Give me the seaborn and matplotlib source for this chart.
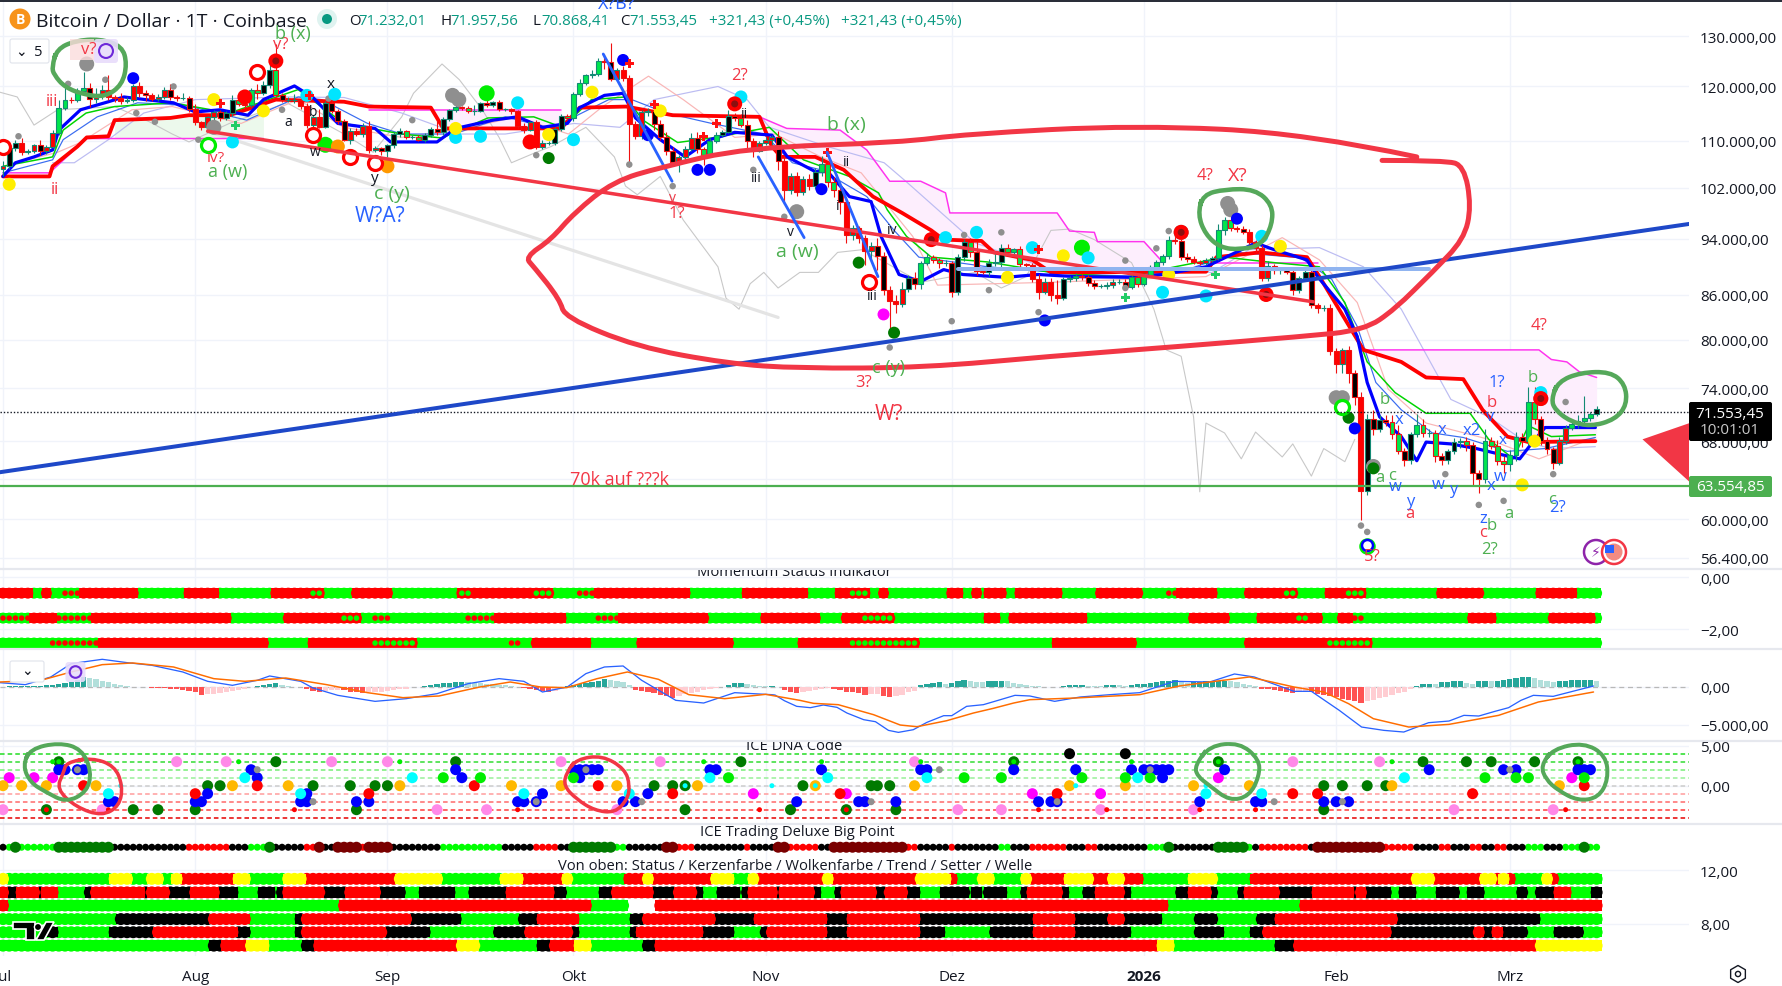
import matplotlib
matplotlib.use("Agg")
import matplotlib.pyplot as plt
from matplotlib.patches import Rectangle, FancyBboxPatch, Polygon, Circle, PathPatch
from matplotlib.path import Path
from matplotlib.ticker import NullLocator
import seaborn as sns

W, H = 1782, 987
CHART_R = 1689

# daily closes in thousand dollars, 1 Jul 2025 to 15 Mar 2026
closes = [
    105.7,108.8,109.6,108.0,108.2,109.2,108.2,108.9,111.3,115.9,117.5,117.4,119.1,119.8,117.7,118.6,119.4,117.9,117.8,117.3,117.4,120.0,118.8,118.3,117.6,117.9,119.4,118.0,117.8,117.8,115.7,
    113.3,112.5,114.2,115.1,114.1,115.0,117.5,116.7,116.5,119.3,118.7,120.2,123.3,118.3,117.4,117.5,117.5,116.3,112.9,114.2,112.5,116.9,115.4,113.5,110.1,111.8,111.2,112.6,108.4,108.8,108.2,
    109.2,111.2,111.7,110.7,110.7,110.2,111.1,112.1,111.5,113.9,115.5,116.1,115.9,115.3,115.4,116.8,116.5,117.1,115.7,115.7,115.3,112.7,112.0,113.3,109.0,109.6,109.6,112.1,114.4,114.0,
    118.6,120.6,122.2,122.4,125.0,124.8,121.4,123.3,121.7,113.0,110.8,115.1,115.3,113.0,110.7,108.2,106.4,107.2,108.6,110.5,108.5,107.6,110.0,111.0,111.6,114.5,114.1,112.9,110.0,108.3,109.6,
    110.1,110.6,106.5,101.6,103.9,101.3,103.4,102.3,104.7,106.0,103.0,101.6,99.7,94.6,95.6,94.2,92.2,92.9,91.5,86.6,85.1,84.7,86.8,88.3,87.4,90.5,91.3,90.9,90.4,90.4,
    86.3,91.3,93.5,92.1,89.3,89.2,90.4,90.6,92.7,92.0,92.5,90.3,90.2,88.2,86.4,87.8,86.0,85.5,88.1,88.3,88.6,88.4,87.6,87.2,87.2,87.3,87.8,87.8,87.1,88.4,87.5,
    88.7,89.9,90.6,91.4,93.9,93.7,91.3,91.0,90.6,90.5,90.9,91.2,95.3,96.9,95.6,95.5,95.1,93.6,92.6,88.3,90.0,89.4,89.5,89.2,86.6,88.3,89.1,84.6,84.1,84.2,78.6,
    76.9,78.7,75.8,73.0,62.8,70.5,69.3,70.3,70.1,68.8,66.9,66.0,68.8,69.8,68.9,68.9,66.4,66.0,66.9,67.9,68.0,67.6,64.6,64.0,68.0,67.5,65.9,65.6,
    66.5,68.5,68.0,72.4,70.5,68.0,67.1,65.7,68.0,69.5,69.9,70.2,70.6,71.0,71.55,
]
wick_up = [
    .8,.5,.6,.9,.4,.3,.9,.3,.6,1.6,2.6,.5,.6,3.1,.9,1.1,.9,2.9,.5,.9,.6,.5,.9,.6,.4,.6,.5,1.0,.4,.9,.3,
    .9,.3,.3,.4,.5,.4,.8,.5,.8,.5,1.2,.8,1.2,5.2,.5,.5,1.1,.4,.5,.4,1.5,.3,.4,.3,.4,.4,.5,.6,1.0,.3,.2,
    .3,.3,.5,.3,.3,.3,.3,.4,1.7,.3,.3,.5,.2,.4,1.1,.3,1.5,.2,.3,.3,.3,.3,.4,.3,.4,.6,.3,.3,.4,.5,
    .3,.9,.3,.8,.6,1.4,3.9,.3,.6,.5,.6,.4,.6,.5,.7,.9,.7,.3,.5,.9,1.1,.5,.5,.5,.4,1.1,.5,.8,.9,.5,.4,
    .6,.5,1.2,.9,.5,.8,.6,.9,.6,1.4,.5,.8,.6,.9,.5,.4,.4,.6,1.3,.6,.6,.8,.9,.4,.8,.3,.6,.3,.3,.5,
    .4,.4,.5,.7,1.6,.4,.6,1.5,.5,.5,.2,.4,.2,.3,.6,.5,.5,2.0,.3,.3,.4,.3,.3,.4,.3,.5,.3,.3,.4,.5,.3,
    .3,.3,.3,.3,.5,.7,.4,.6,.4,.3,.3,.3,1.0,.5,.6,.3,.4,.4,.3,.5,.8,.3,.4,.4,.3,.3,.4,.5,.2,.3,.5,
    .4,.3,.5,.4,.6,.5,1.0,.6,.6,.8,1.0,.4,.2,1.2,.6,.4,.3,.3,.2,.4,.3,.4,.3,.3,1.3,.4,.6,.5,
    .5,.5,.4,1.8,1.8,.3,.4,.3,.4,.3,.6,.7,2.5,.3,.4,
]
wick_dn = [
    1.2,.5,.6,.5,.3,.4,.6,.5,.2,.3,.4,.5,.3,.5,1.6,.8,.9,.5,.7,.6,.4,.4,.8,1.0,.4,.4,.3,.5,.6,.4,.5,
    .5,.6,.4,.4,.5,.4,.6,.4,.5,.3,1.0,.4,.4,.4,.4,.3,.7,.5,.7,.5,.3,.3,.4,.5,.2,.6,.4,.5,.5,.4,.6,
    1.0,.4,.5,.3,.4,.3,.4,.5,.4,.4,.3,.4,.4,.3,.6,.3,.4,.3,.3,.4,.5,.4,.7,.3,.5,.4,.4,.3,.4,.3,
    .5,.4,.4,.5,.4,1.3,.4,.4,.6,7.5,.4,.4,.6,1.0,.6,.6,.4,1.8,.5,.3,.6,1.7,.5,.4,.3,.3,.6,.4,1.4,1.1,.3,
    .4,.9,1.5,2.2,.6,.6,.4,.7,.5,.7,.8,1.1,1.8,1.2,.8,.8,2.0,1.4,2.0,.6,4.0,1.2,.4,.4,.7,.6,.4,.5,.6,.4,
    .6,.4,.5,.8,.6,.4,.6,.4,.7,.5,.4,.4,.5,.5,1.0,.3,.9,.8,.3,.4,.4,.4,.4,.4,.3,.5,.4,.4,.4,.4,.4,
    .3,.3,.4,.4,.4,.5,.4,.4,.3,.4,.4,.3,.3,.7,.4,.4,.4,.4,.6,.4,.4,.5,.6,.4,.6,.4,.4,.5,.6,.4,.6,
    1.0,1.0,1.2,1.0,2.9,.4,.6,.3,.4,.6,.3,.7,.4,.4,.5,.4,.6,.6,.4,.3,.6,.7,1.3,1.4,.4,.4,.5,1.0,
    .8,.6,.6,.4,.6,.4,.5,.7,.3,.3,.3,.4,.3,.4,.2,
]

# line studies on the price pane: day index and price in thousands
blue_days = [0,2,5,8,9,12.5,17,19.5,23,27.5,31,35,39.5,42,47,50,54,60,62.5,70,73,79,83,87,91,93,97,100,102,106,110,114,118,124,126.5,131,133,136.5,140,141.6,144.5,148,151.7,154.8,161.8,166.9,173,182,187,194,197,202,205,210.3,212,216.4,218.4,220,222,225.5,228,229.5,233.5,237.6,242.6,244.6,246.7,248.7,256.8]
blue_vals = [103.9,106.2,107.2,108.4,111.9,115.6,117.1,118,117.5,116.9,115.2,115.6,114.6,117.5,120.1,117.9,113.1,112.2,109.8,109.8,112.2,113.7,114.3,112.4,113.1,116,118.3,118.7,114.1,110.2,107.2,110.2,111.5,111,107.2,104.7,104.7,100.6,99.8,94.4,88.8,87.8,89.5,88.8,88.4,88.8,88.5,88.4,88.8,89.9,91.2,93.4,92.4,90.9,88.5,84,80.4,74.7,70.7,68.5,65.9,67.9,67.7,67.2,66.4,66.1,67.9,69.5,69.5]
red_days = [0,7.5,8,12,13.5,17,18,27,30,36.5,40.2,44,55,59,69,71,90,93,100.5,108,122,124,125.5,131,135.6,140.3,145,149.7,151.7,157.8,159.8,166,169,194,195.7,202.7,210.3,212.3,219.4,225.5,229.5,235.5,238.6,242.6,246,256.8]
red_vals = [103.9,103.9,105.6,109,110.6,110.8,113.7,114.1,114.6,114.6,116,117.5,117.1,116.2,116,112.2,112.2,116,116.2,114.6,114.3,109,107.2,107.2,105,100.6,98,95.3,93.9,93.7,92,90.9,89.1,89.2,91.3,92,91.3,88.5,78.7,77.2,75.3,75.1,71.5,68.5,67.9,68]
green_days = [0,8,9.7,13.4,18,27.3,36.5,47.6,55,64.3,70.8,78.2,85.6,90.2,94.9,100.4,103.2,108.8,114.3,123.6,129.1,136.5,141.2,142.6,145.7,149.7,158.8,169,181,189,197,205,212.3,216.4,220,224.5,229.5,236.6,239.6,243.6,246,249.7,256.8]
green_vals = [105.6,107.2,111.9,115,116.2,116.9,115,119.4,113.1,111.2,110.5,114.1,114.3,112.4,117.5,118,113.7,109.7,110.5,112.4,106.7,103.9,101.2,98.5,94.4,91.3,90.6,89.1,88.4,89.9,91.3,90.5,89.9,84.9,77.2,73.5,71.1,71.1,68.2,66.1,69.7,68.5,68.7]
thin_blue_days = [0,8,9.7,15.2,21.7,29.1,39.3,47.6,51.4,58.8,64.3,72.7,81,88.4,92.1,97.7,101.4,107,114.3,122.7,127.3,131.9,139.3,143.7,147.7,158.8,174,185,191,199,209.3,214.3,218.4,221.4,225.5,230.5,235.5,242.6,248.7,256.8]
thin_blue_vals = [104.5,106.7,110.2,114.3,116.9,116.5,113.7,118,117.5,113.1,111.2,111.2,114.3,112.2,114.3,117.5,117.5,115,113.1,111.2,106.2,105,100.6,95.3,91.3,89.9,88.8,88.5,89.5,92,91.2,88.1,81.7,74.7,71.5,68.9,68.4,66.9,67.2,68.4]
lavender_days = [8,11.5,17,22.7,31,45.8,55,64.3,73.6,81,92.1,99.5,105,115.3,120,123.6,132.9,142.1,145.7,156.8,169,195,201,212.3,219.4,225.5,233.5,239.6,245.6,249.7,256.8]
lavender_vals = [106.2,106.2,110.2,115,117.5,118,117.9,115,111.2,111.2,113.1,112.4,117.5,120,117.5,112.4,109,106.2,103,93.4,89.5,89.1,92.4,92.7,89.9,84,72.7,70.7,67.9,67.2,67.4]
salmon_days = [0,8.8,12.5,20.8,27.3,38.4,47.6,55,64.3,75.4,82.8,91.2,96.7,104.1,109.7,118,124.5,131.9,138.4,146.7,150.7,169,194,206.3,212.3,218.4,223.4,229.5,239.6,247.7,256.8]
salmon_vals = [105.6,108,109.7,115.6,116.2,113.1,117.5,112.4,110.6,112.4,114.3,111.2,116.2,122,117.5,110.6,111.2,107.2,104.5,94.4,87.3,87.7,88.5,94.2,90.9,84.9,73.9,70,68.2,66.1,68.4]
lag_days = [-0.5,2.3,5,8.8,18,23.6,27.3,30,36.5,45.8,55,59.7,64.3,66.2,70.8,73.6,77.3,80,82,86,88.4,94,98.6,100.4,102.3,106,109.7,115.3,116.6,118.7,120.5,122.7,125,128.5,131.5,134.6,138.6,148,156.8,161,165,169,172,176,182,185.6,187.6,190,192,193,194,197,199.7,202,206.3,208,211,213,216.4,218]
lag_vals = [118.9,118,112.8,115.6,116.2,113.4,111.2,109.8,113.1,116.9,111.2,108,114.3,118.7,124.4,121.3,115.6,110.6,106.2,108,109,112.4,107.2,102.3,100.9,103.9,96.9,89.9,85.5,84,87.5,89.1,86.9,89.1,89.1,92,92.4,87.7,89.1,86.9,88.5,95.3,95.5,93.9,90.5,84,78.7,77.9,70.7,62.7,70,68.9,66.1,69,66.3,67.7,64.3,67.2,65.8,68.2]

# clouds
cloud_green_days = [18,27,30,33,42]
cloud_green_top = [113.7,114.1,114.6,114.6,114.6]
cloud_green_low = [110.4,110.4,110.4,110.4,110.4]
cloud_pink1_days = [59,69,71,83,90]
cloud_pink1_top = [115.6,115.6,115.6,115.6,115.6]
cloud_pink1_low = [116,116,112.2,112.2,112.2]
cloud_pink2_days = [122,126.4,135,139.3,143,148,152,152.7,170,172,176,176.5,184,187]
cloud_pink2_top = [114.3,112.2,111.9,108.4,103.1,103.1,101.2,98,98,95.2,95,93.6,93.6,90.6]
cloud_pink2_low = [114.3,107.2,105.3,101.8,99,96,93.9,93.8,89.1,89.1,89.1,89.1,89.1,89.2]
cloud_pink3_days = [220,225.5,229.5,235.5,238.6,242.6,246,247.7,249.7,252.2,254.2,257]
cloud_pink3_top = [78.7,78.7,78.7,78.7,78.7,78.7,78.7,78.7,77.5,77.2,76,75.3]
cloud_pink3_low = [78.4,77.2,75.3,75.1,71.5,68.5,67.9,67.9,68,68,68,68]
magenta_a_days = [0,7.5,13.5,42]
magenta_a_vals = [104.5,104.5,110.4,110.4]
magenta_b_days = [195,212]
magenta_b_vals = [90.5,90.5]

# drawn trend lines and hand shapes, day index and price
long_blue_days = [-0.5,272]
long_blue_vals = [64.7,96.3]
long_red_days = [33,211.3]
long_red_vals = [111.7,85.0]
long_grey_days = [33,125]
long_grey_vals = [111.7,82.9]
flat_blue_days = [154,230]
flat_blue_vals = [89.6,89.6]
diag_a_days, diag_a_vals = [96.8,107.9], [126.4,103.1]
diag_b_days, diag_b_vals = [121.8,129.2], [107.2,94.2]
diag_c_days, diag_c_vals = [132.9,141.1], [108,88.5]
loop_days = [228,210.3,182.8,155.3,144.7,119.8,106,98.5,92.1,88.4,84.2,85.6,89.8,90.6,102.1,116.8,128.5,148.7,168.9,189.2,209.4,219.5,224.5,230.5,235.6,236.8,235.6,232.6,222.4]
loop_vals = [107.2,111.3,112.8,111.2,109.7,108.8,105.4,103.1,98,93.9,91.3,89.9,85.3,82.9,79.1,77,76.4,76.5,77.9,79.1,80.4,81.2,84,89.1,93.9,99,105.7,106.6,106.6]
ring_a_days = [7.9,8.7,11.6,15.6,19.2,20,19.2,16.5,13.2,10,8.2,7.9]
ring_a_vals = [123.8,127.4,129.1,129.5,128,124.4,120.3,118,118.4,119.8,122.3,123.8]
ring_b_days = [192.7,193.5,197.1,201.9,204.7,204.7,203,199.5,196.3,193.9,192.7]
ring_b_vals = [97.7,100.9,101.8,101.8,99.3,96.2,93.1,92.4,92.7,94.7,97.7]
ring_c_days = [249.7,250.8,254.4,259.2,261.6,261.9,260,256,252.7,250.3,249.7]
ring_c_vals = [72.7,74.8,75.9,76,74.5,72.1,70.4,69.6,70.2,71.5,72.7]
wedge_days = [272,264.4,272]
wedge_vals = [70,68.2,63.7]
support_level = 63.3
last_close = 71.2

# marker dots on the price pane
grey_small_d = [2.5,10.5,16.5,31.5,27.5,21.5,24.5,45,52.5,66,86,101,108,121,126,161,155,153,159,167,181,181,186,188,232.6,238,242,250,252,219,220,143]
grey_small_p = [110.8,120.5,121.3,110.2,120,115,113.4,115.6,117.7,113.7,107.5,105.9,102.3,105,97.4,95,94.6,82.4,86.6,83.6,90.8,86.9,92.6,95.2,64.5,61.4,61.8,64.5,72.4,59.4,58.8,79]
grey_big_d = [13.5,34,73.5,72.5,128,198,197.5,190,248,215,216,221]
grey_big_p = [124.4,112.4,117.5,118.3,98.2,98.5,99.5,95,72.8,72.9,72.9,65.3]
blue_d = [21,100,104,112,114,132,199,168,218]
blue_p = [121.6,125.2,111,105,105,101.8,97.1,82.5,69.4]
blue_ring_d = [220]
blue_ring_p = [57.6]
dark_green_d = [88,138,143.7,217,221]
dark_green_p = [107,90.5,80.9,70.6,65.1]
lime_d = [78,52,174]
lime_p = [118.7,109.3,92.7]
cyan_d = [49,53.5,37,73,77,92,119,83,152,157,166,175,187,194,203,248]
cyan_p = [118.3,118.5,109.8,110.6,110.8,110.2,118,116.9,94.2,95,92.7,91.2,86.3,85.8,94.4,73.5]
yellow_d = [1,34,42,95,73,88,106,171,188,162,206,245,247]
yellow_p = [102.6,117.5,115.4,118.9,112.2,111.1,115.4,91.5,88.8,88.4,92.9,63.4,68]
orange_d = [62,54]
orange_p = [105.6,109]
magenta_d = [142]
magenta_p = [83.3]
red_solid_d = [39,85,44,118,149.7,203.7,190,248]
red_solid_p = [118,109.8,125,116.7,93.9,86,95,72.8]
red_core_d = [44,118,149.7,203.7,190,248]
red_core_p = [125,116.7,93.9,86,95,72.8]
red_ring_d = [0,41,50,56,60,139.7]
red_ring_p = [109,122.8,111,107.2,106.2,87.8]
green_ring_d = [33,216]
green_ring_p = [109.3,71.8]
red_plus_d = [35,49.5,101,115,113,105,133,167]
red_plus_p = [116.7,118.3,124.5,113,110.8,116.6,108,92.4]
green_plus_d = [37.5,195.6,181]
green_plus_p = [112.8,88.8,85.6]

# status rows: colour code and last day of the run
mom_row1 = "R4 G6 R7 G9 r12 R21 G29 R34 G43 R49 g51 G56 R62 G73 g75 R85 g88 G92 r95 R110 G119 R129 G134 R136 g139 G141 R142 G152 R154 G156 R157 G158 R161 G163 R170 G176 R183 G187 r189 R195 G200 R206 g208 G213 R216 g219 G231 R238 G247 R253 G257".split()
mom_row2 = "r4 R8 r14 R36 G45 R54 g57 G59 r62 G74 r79 R90 G95 r99 R113 G122 R131 G135 R138 g143 G158 R160 G162 R174 G191 R197 G202 R208 g210 R212 G215 R217 r219 G236 R240 G249 R256 G257".split()
mom_row3 = "G7 r15 R42 G49 R59 g66 G81 r83 G85 R94 G102 R117 G128 R136 g147 G169 R182 G200 R213 g220 G257".split()
big_point = "K0 G1 D2 G8 D17 K29 R36 K39 G42 D43 K48 R50 M51 K53 M57 R58 M62 K70 G80 K85 R89 K91 D98 G100 K106 M108 R111 K119 R120 K124 M126 R131 K133 M145 R147 K152 R153 K160 G162 K165 R171 K174 R176 K184 G187 D188 K195 D200 G201 K202 R210 K211 M222 R227 K231 R233 K236 R238 K240 R242 K245 G248 K251 G254 D255 G257".split()
status_row = "Y0 G17 Y20 G23 Y25 G27 Y28 R37 Y39 G45 Y48 R63 Y70 G80 Y83 R90 Y91 G100 R103 Y104 R114 Y117 G120 Y121 R132 Y133 R147 Y152 R153 G157 Y159 G164 Y165 R171 Y175 R178 Y180 R183 G191 Y195 G201 R227 Y230 R238 Y240 R241 Y242 R243 G248 Y249 R250 G257".split()
candle_row = "R0 K2 R5 K6 R8 G13 K14 R22 K23 R26 K30 R34 K37 G41 K43 G44 K45 R51 K55 R60 K64 G67 K72 G75 K81 R88 K90 G96 K98 R104 K108 R111 K112 G115 K118 G119 K120 R124 K125 R130 K131 G134 K135 R140 K142 R145 K147 G151 K155 G156 K157 G158 K161 G164 K165 R170 K171 G174 K176 R180 K181 G189 K191 R194 K195 G199 K200 R205 K211 R217 K218 R219 K223 G225 K227 G231 K234 G236 K238 G244 K245 G247 K250 R252 G256 K257".split()
cloud_row = "R0 G54 R94 G100 W105 R187 G209 R257".split()
trend_row = "G18 K33 R39 G47 K48 R65 K73 G83 K86 R92 G101 K103 R114 K121 R132 K136 R147 K166 R172 K178 R180 K186 G192 K195 G202 K205 R224 K247 G257".split()
setter_row = "G7 K8 G17 K24 R37 K39 G47 K48 R61 K68 G79 K84 R91 K92 G101 K102 R112 K117 G122 K123 R132 K136 R147 K151 G159 K166 R172 K181 G192 K196 G201 K203 R223 K237 R238 K240 R241 K245 G250 K254 G257".split()
wave_row = "G33 K35 R39 Y42 G48 K50 R73 Y76 G86 K88 R92 Y94 G103 K105 R186 Y188 G205 K208 R247 Y257".split()

# ICE DNA dots: day lists per level
pink_up = [28,36,53,62,90,106,147,208,222]
pink_down = [0,16,70,78,99,154,161,177,192,234,250]
magenta_up = [1,5,8,196,253]
magenta_down = [121,136,166,177]
dgreen_l3 = [9,44,73,119,163,196,229,236,240,247,254]
dgreen_l0 = [33,35,50,56,60,62,105,108,110,129,140,141,143,213,216,220,223]
dgreen_ln3 = [7,21,25,31,57,110,127,136,144,213]
blue_l2 = [9,10,12,13,40,73,92,93,94,95,96,114,115,132,148,149,163,173,182,184,185,186,187,188,197,230,242,244,254,255,256]
blue_l1 = [41,74,93,187]
blue_ln1 = [33,49,87,104]
blue_ln2 = [17,18,31,32,48,49,57,59,83,84,86,100,102,128,138,139,144,167,169,170,193,202,203,213,215,217]
amber_l0 = [0,3,7,15,37,46,64,82,90,99,112,131,147,172,181,192,201,224,251]
red_l0 = [13,41,76,96,255]
red_ln1 = [31,59,108,135,170,208,212,237]
lime_l1 = [71,77,92,117,155,161,174,181,185,239,244,246,255]
cyan_l1 = [39,66,114,133,149,183,226]
cyan_ln1 = [17,48,84,101,194,203]
tiny_cyan_l0 = [19,124,131,173,194,110]
tiny_lime_l3 = [8,38,64,113,132,148,182,224,9,163,196,254]
tiny_red_ln3 = [7,17,47,83,122,136,167,178,193,202,252]
grey_l2 = [12,41,94,151,185,243]
grey_ln2 = [50,86,103,140,170,205,216]
black_l4 = [172,181]
dna_levels = [4,3,2,1,0,-1,-2,-3,-4]
dna_colors = ["#22dd22","#33dd33","#77ee77","#99f099","#cccccc","#ff9c9c","#ff6a6a","#ff3b3b","#e60000"]
dna_ring1_d = [3.2,4.4,9,12.7,14.3,13.5,10.2,6.9,4.4,3.2]
dna_ring1_v = [2.5,4.6,5.4,4.6,1.7,-0.8,-2.1,-0.8,0.4,2.5]
dna_ring2_d = [192.2,194.6,199.4,202.6,202.6,201,197.8,194.6,192.6,192.2]
dna_ring2_v = [2.5,5,5.4,3.3,1.2,-1.3,-1.9,0,1.2,2.5]
dna_ring3_d = [248,250,254.9,258.5,258.9,257.3,254,250.8,248.8,248]
dna_ring3_v = [2.5,4.6,5.4,3.8,0.8,-1.5,-1.9,-0.6,0.8,2.5]
dna_loop1_d = [10.2,14.3,18,19.3,18.8,16,11.8,8.6,9.8,10.2]
dna_loop1_v = [2.9,3.5,2.5,0,-2.5,-3.8,-2.7,-0.4,1.7,2.9]
dna_loop2_d = [90.9,92.5,96.6,100.3,101.1,100.7,98.7,95.4,92.5,90.4,90.9]
dna_loop2_v = [1.7,3.3,3.8,2.1,0,-1.7,-3.4,-3.1,-1.7,0,1.7]

# MACD pane
macd_hist = [
    60,80,90,100,130,160,180,220,300,420,560, 700,900,1250,1200,1000,800,600,450,
    300,150,30,-30,-60,-90,-140,-180,-220,-300,-420,-560,-640, -1100,-950,-880,-800,-700,-560,-420,-280,-60,
    150,280,420,560,300,130,40, -30,-200,-560,-650,-480,-420,-350,-400,-650,-700,-780,-720,-650,-600,-500,
    -380,-300,-200,-60, 50,120,250,350,500,580,650,720, 620,560,500,460,400,320,260,180,60,
    -80,-230,-400,-550,-680,-560,-300, 80,220,400,560,700,820,1000, 950,800,600,250,
    -350,-500,-650,-800,-1000,-1250,-1400, -1150,-950,-800,-600,-450,-300,-120,40, 300,480,500, 380,250,180,130,180,60,
    -400,-700,-800, -650,-500,-350,-200,-130, -250,-350,-600,-700,-800,-1050, -950,-900, -1200,-1300,-1250, -1000,-700,-500,
    200,450,550,700, 400, 500,750,950, 850,700,650, 750,800,800,750, 500,400,250,100,
    80,40,20,-50, 100,200,250,250, 180,170,150,200,220,200,150,200, 350,450,550,650,750,850,900, 600,500,
    600,700,750,800,850,850,800, 600,450,300,150, -200,-300,-450,-550,-650,-750,-700,-600,
    -600,-900,-1100,-1200,-1350,-1550,-1700,-1900,-2100, -1900,-1700,-1500,-1300,-1000,-800,-600,-300,
    150,400,450,350,600,700,750,750, 500,400, 750,800,750,850,950,1100,1200, 1250,1250,1150, 900,800,700,
    800,850,900,900,900,900, 850,
]
macd_days = [-0.5,3.6,7.7,11,16,20,24,29,33,37,41,43,48,50,54,60,65,70,75,80,84,87,91,94,97,100,103,108.5,113,118,124,124.5,126,128,130.2,132.3,134.5,136.1,138.8,140.7,142.8,144.4,146.8,149,151.7,153,155.4,158.1,160.3,163.2,165.6,169.6,173.7,178.5,183.3,188.9,194.6,198.6,201.8,208.2,211,215.5,219.1,222.7,225.9,229.9,233.2,235.6,238,240.6,242.8,244.8,246.8,250,256.5]
macd_vals = [570,307,1317,3073,3644,3205,2854,1976,746,220,878,1449,746,-132,-1098,-1888,-1537,-878,439,1098,746,-659,0,1756,2634,2766,878,-1756,-2107,-746,-1010,-1054,-1800,-2546,-2722,-2370,-2678,-3424,-4300,-4566,-5707,-5970,-5620,-4653,-3775,-3775,-2546,-2327,-1800,-1097,-1185,-1888,-1317,-1010,-746,746,658,1712,1317,-570,-570,-3073,-5268,-5707,-5926,-4697,-4478,-3731,-3819,-3205,-2722,-1756,-1097,-1229,132]
signal_days = [-0.5,6.1,11,16,20.9,27.5,34,39,45.6,52.2,58.8,64.5,70.3,76.9,81.8,86.7,90.9,95.8,100.7,105.7,110.6,116.4,123,128.5,130.7,134.7,140.4,144.7,147.4,152.2,156.5,159.7,163,165.6,172.9,183.3,189.7,194.6,201,208.2,213,217,221,226.7,233.2,241.2,247.6,256.5]
signal_vals = [658,878,1975,2941,3161,2634,1097,746,1185,307,-746,-1405,-1185,0,658,0,-88,1097,1975,1010,-1010,-1536,-966,-1756,-2151,-2327,-3644,-5005,-5224,-4434,-3424,-2810,-2107,-1668,-1449,-1010,132,658,1317,0,-658,-2195,-4170,-5268,-4917,-3731,-1975,-658]

month_days = [0,31,62,92,123,153,184,215,243]
month_labels = ["Jul","Aug","Sep","Okt","Nov","Dez","2026","Feb","Mrz"]
price_ticks = [130,120,110,102,94,86,80,74,68,64,60,56.4]
price_labels = ["130.000,00","120.000,00","110.000,00","102.000,00","94.000,00","86.000,00","80.000,00","74.000,00","68.000,00","64.000,00","60.000,00","56.400,00"]

RED, GREEN, BLUE = "#f23645", "#4caf50", "#2962ff"
BAND = {"R":"#ff0000","G":"#00ff00","K":"#000000","Y":"#ffff00","D":"#007a00","M":"#7a0000","W":"#ffffff"}

sns.set_theme(style="white")
plt.rcParams["font.family"] = ["Open Sans", "DejaVu Sans"]
fig = plt.figure(figsize=(W / 100, H / 100), dpi=100, facecolor="white")


def pane(top, bottom, ylim, log=False):
    ax = fig.add_axes([0, 1 - bottom / H, CHART_R / W, (bottom - top) / H])
    if log:
        ax.set_yscale("log")
    ax.set_xlim(-0.484, 271.9)
    ax.set_ylim(*ylim)
    ax.yaxis.set_minor_locator(NullLocator())
    ax.yaxis.tick_right()
    ax.set_xticks(month_days)
    ax.set_xticklabels([])
    ax.tick_params(axis="both", length=0, labelsize=11, colors="#131722", pad=8)
    ax.grid(True, color="#f0f3fa", lw=1)
    ax.set_axisbelow(True)
    sns.despine(ax=ax, left=True, bottom=True, right=True, top=True)
    ax.patch.set_alpha(0)
    return ax


def line(ax, xs, ys, color, px=1.0, z=3, **kw):
    sns.lineplot(x=xs, y=ys, ax=ax, color=color, lw=px * 0.72, estimator=None, sort=False,
                 errorbar=None, legend=False, zorder=z, solid_capstyle="round", solid_joinstyle="round", **kw)
    ax.set_xlabel("")
    ax.set_ylabel("")


def stroke(ax, xs, ys, color, px, z=9):
    # hand drawn shape, read points act as curve controls so the pen line stays round
    pts = list(zip(xs, ys))
    closed = pts[0] == pts[-1]
    mid = lambda a, b: ((a[0] + b[0]) / 2, (a[1] + b[1]) / 2)
    if closed:
        verts = [mid(pts[0], pts[1])]
        ctrl = pts[1:] + [pts[1]]
    else:
        verts = [pts[0]]
        ctrl = pts[1:-1]
    codes = [Path.MOVETO]
    for i, p in enumerate(ctrl):
        nxt = ctrl[i + 1] if i + 1 < len(ctrl) else (mid(pts[0], pts[1]) if closed else pts[-1])
        end = mid(p, nxt) if i + 1 < len(ctrl) else nxt
        verts += [p, end]
        codes += [Path.CURVE3, Path.CURVE3]
    ax.add_patch(PathPatch(Path(verts, codes), fill=False, ec=color, lw=px * 0.72, zorder=z, capstyle="round"))


def dots(ax, xs, ys, color, px=12, z=6, edge="none", lw=0, marker="o", **kw):
    if not isinstance(ys, list):
        ys = [ys] * len(xs)
    sns.scatterplot(x=xs, y=ys, ax=ax, color=color, s=(px * 0.72) ** 2, zorder=z, edgecolor=edge,
                    linewidth=lw, marker=marker, legend=False, clip_on=True, **kw)
    ax.set_xlabel("")
    ax.set_ylabel("")


def rings(ax, xs, ys, color, px=13, width=3.0, z=6):
    ax.scatter(xs, ys, s=(px * 0.72) ** 2, facecolors="white", edgecolors=color, linewidths=width * 0.72, zorder=z)


def expand_runs(tokens):
    days, codes, start = [], [], 0
    for tok in tokens:
        end = int(tok[1:])
        for d in range(start, end + 1):
            days.append(d)
            codes.append(tok[0])
        start = end + 1
    return days, codes


def band(ax, tokens, y, px=11):
    days, codes = expand_runs(tokens)
    base = {"r": "G", "g": "R"}
    for code in sorted(set(base.get(c, c) for c in codes)):
        xs = [d for d, c in zip(days, codes) if base.get(c, c) == code]
        if code != "W":
            dots(ax, xs, y, BAND[code], px=px, z=4)
            dots(ax, xs, y, BAND[code], px=px - 1.6, z=4, marker="s")
    for small, col in (("r", "#ff0000"), ("g", "#00ff00")):
        xs = [d for d, c in zip(days, codes) if c == small]
        if xs:
            dots(ax, xs, y, col, px=5.5, z=5)


# ---- price pane
ax_p = pane(2, 569, (55.5, 137.6), log=True)
for xs, top, low, col in [(cloud_green_days, cloud_green_top, cloud_green_low, "#ecf9ec"),
                          (cloud_pink1_days, cloud_pink1_top, cloud_pink1_low, "#fdeefd"),
                          (cloud_pink2_days, cloud_pink2_top, cloud_pink2_low, "#fdeefd"),
                          (cloud_pink3_days, cloud_pink3_top, cloud_pink3_low, "#fdeefd")]:
    ax_p.fill_between(xs, low, top, color=col, lw=0, zorder=1)

line(ax_p, lag_days, lag_vals, "#c8c8c8", 1.1, z=2)
line(ax_p, lavender_days, lavender_vals, "#bcbcf2", 1.2)
line(ax_p, salmon_days, salmon_vals, "#f9b6b6", 1.2)
line(ax_p, magenta_a_days, magenta_a_vals, "#ff33ee", 1.5)
line(ax_p, magenta_b_days, magenta_b_vals, "#ff33ee", 1.5)
line(ax_p, cloud_pink1_days, cloud_pink1_top, "#ff33ee", 1.5)
line(ax_p, cloud_pink2_days, cloud_pink2_top, "#ff33ee", 1.5)
line(ax_p, cloud_pink3_days, cloud_pink3_top, "#ff33ee", 1.5)
line(ax_p, thin_blue_days, thin_blue_vals, "#3a6cf0", 1.2)
line(ax_p, green_days, green_vals, "#00d400", 1.5)

line(ax_p, long_grey_days, long_grey_vals, "#e4e4e4", 3.2, z=2)
line(ax_p, long_red_days, long_red_vals, RED, 3.5, z=8)
line(ax_p, flat_blue_days, flat_blue_vals, "#90b4f0", 4, z=8)
line(ax_p, red_days, red_vals, "#ff0000", 3.8, z=3.4)
line(ax_p, blue_days, blue_vals, "#0000ff", 3.2, z=3.5)

# candles: body colour follows the Kerzenfarbe row
candle_days, candle_codes = expand_runs(candle_row)
opens = [closes[0] - 0.5] + closes[:-1]
for d, (op, cl, up, dn) in enumerate(zip(opens, closes, wick_up, wick_dn)):
    code = candle_codes[d]
    rising = cl >= op
    edge = "#138a74" if rising else "#f01010"
    face = {"G": "#00e64d", "R": "#ff0000", "K": "#000000"}[code]
    ax_p.vlines(d, min(op, cl) - dn, max(op, cl) + up, color=edge, lw=0.8, zorder=4)
    ax_p.bar(d, abs(cl - op), bottom=min(op, cl), width=0.8, color=face, edgecolor=edge, linewidth=0.8, zorder=4.2)

ax_p.axhline(support_level, color=GREEN, lw=1.6, zorder=7)
ax_p.axhline(last_close, color="#131722", lw=1, ls=(0, (1, 1.4)), zorder=7)

line(ax_p, long_blue_days, long_blue_vals, "#1e48c8", 4, z=8)
line(ax_p, diag_a_days, diag_a_vals, BLUE, 2.8, z=8)
line(ax_p, diag_b_days, diag_b_vals, BLUE, 2.8, z=8)
line(ax_p, diag_c_days, diag_c_vals, BLUE, 2.8, z=8)
stroke(ax_p, loop_days, loop_vals, RED, 5)
for xs, ys in [(ring_a_days, ring_a_vals), (ring_b_days, ring_b_vals), (ring_c_days, ring_c_vals)]:
    stroke(ax_p, xs, ys, "#55a85a", 4.5)
ax_p.add_patch(Polygon(list(zip(wedge_days, wedge_vals)), closed=True, color=RED, lw=0, zorder=9))

dots(ax_p, grey_small_d, grey_small_p, "#8f8f8f", 6.5)
dots(ax_p, grey_big_d, grey_big_p, "#8f8f8f", 15)
dots(ax_p, blue_d, blue_p, "#0000ff", 12)
dots(ax_p, dark_green_d, dark_green_p, "#007a00", 12)
dots(ax_p, lime_d, lime_p, "#00ee00", 16)
dots(ax_p, cyan_d, cyan_p, "#00e5ff", 13)
dots(ax_p, yellow_d, yellow_p, "#ffee00", 13)
dots(ax_p, orange_d, orange_p, "#ff9800", 14)
dots(ax_p, magenta_d, magenta_p, "#ff00ff", 12)
dots(ax_p, red_solid_d, red_solid_p, "#ff0000", 15)
dots(ax_p, red_core_d, red_core_p, "#8a1010", 7, z=6.5)
rings(ax_p, red_ring_d, red_ring_p, "#ff0000", 14, 3.2)
rings(ax_p, green_ring_d, green_ring_p, "#00ee00", 14, 3.2)
rings(ax_p, blue_ring_d, [blue_ring_p[0] * 0.998], "#00ee00", 14, 2.5)
rings(ax_p, blue_ring_d, blue_ring_p, "#0000ff", 11, 2.5)
dots(ax_p, red_plus_d, red_plus_p, "#ff1010", 9, marker="P")
dots(ax_p, green_plus_d, green_plus_p, "#22cc66", 9, marker="P")
ax_p.set_yticks(price_ticks)
ax_p.set_yticklabels(price_labels)

# ---- momentum pane
ax_m = pane(570, 650, (-2.77, 0.31))
band(ax_m, mom_row1, -0.62)
band(ax_m, mom_row2, -1.58)
band(ax_m, mom_row3, -2.54)
ax_m.set_yticks([0, -2])
ax_m.set_yticklabels(["0,00", "\u22122,00"])

# ---- MACD pane
ax_c = pane(650, 742, (-7106, 5000))
prev = 0
for i, v in enumerate(macd_hist):
    if v >= 0:
        col = "#26a69a" if v >= prev else "#b2dfdb"
    else:
        col = "#ff5252" if v <= prev else "#ffcdd2"
    ax_c.bar(i, v, width=0.85, color=col, lw=0, zorder=2)
    prev = v
ax_c.axhline(0, color="#b8b8b8", lw=0.9, ls=(0, (4, 3)), zorder=1)
line(ax_c, macd_days, macd_vals, BLUE, 1.3)
line(ax_c, signal_days, signal_vals, "#ff6d00", 1.5)
ax_c.set_yticks([0, -5000])
ax_c.set_yticklabels(["0,00", "\u22125.000,00"])

# ---- ICE DNA pane
ax_d = pane(742, 825, (-4.79, 5.59))
for lev, col in zip(dna_levels, dna_colors):
    ax_d.axhline(lev, color=col, lw=1.1, ls=(0, (3, 2)), zorder=1)
for xs, lev, col, px in [(pink_up, 3, "#ff88e8", 11), (pink_down, -3, "#ff88e8", 11),
                         (magenta_up, 1, "#ff00ff", 11), (magenta_down, -1, "#ff00ff", 11),
                         (dgreen_l3, 3, "#007a00", 11), (dgreen_l0, 0, "#007a00", 11), (dgreen_ln3, -3, "#007a00", 11),
                         (blue_l2, 2, "#0000ff", 11), (blue_l1, 1, "#0000ff", 11), (blue_ln1, -1, "#0000ff", 11),
                         (blue_ln2, -2, "#0000ff", 11), (amber_l0, 0, "#ffb800", 11), (red_l0, 0, "#ff0000", 11),
                         (red_ln1, -1, "#ff0000", 11), (lime_l1, 1, "#00ee00", 11), (cyan_l1, 1, "#00ffff", 11),
                         (cyan_ln1, -1, "#00ffff", 11), (grey_l2, 2, "#909090", 7), (grey_ln2, -2, "#909090", 7),
                         (black_l4, 4, "#000000", 11), (tiny_cyan_l0, 0, "#00ffff", 5), (tiny_lime_l3, 3, "#00ee00", 5),
                         (tiny_red_ln3, -3, "#ff0000", 5)]:
    dots(ax_d, xs, lev, col, px, z=6.5 if px < 8 else 6)
for xs, ys in [(dna_ring1_d, dna_ring1_v), (dna_ring2_d, dna_ring2_v), (dna_ring3_d, dna_ring3_v)]:
    stroke(ax_d, xs, ys, "#55a85a", 4, z=8)
for xs, ys in [(dna_loop1_d, dna_loop1_v), (dna_loop2_d, dna_loop2_v)]:
    stroke(ax_d, xs, ys, RED, 3.5, z=7.5)
ax_d.set_yticks([5, 0])
ax_d.set_yticklabels(["5,00", "0,00"])

# ---- Big point and status rows
ax_s = pane(825, 957, (5.56, 15.5))
days, codes = expand_runs(big_point)
for code in "GRKDM":
    xs = [d for d, c in zip(days, codes) if c == code]
    dots(ax_s, xs, 13.75, BAND[code], px=11 if code in "DM" else 7, z=5 if code in "DM" else 4)
for tokens, y in [(status_row, 11.37), (candle_row, 10.35), (cloud_row, 9.36), (trend_row, 8.34), (setter_row, 7.35), (wave_row, 6.34)]:
    band(ax_s, tokens, y, px=12)
ax_s.set_yticks([12, 8])
ax_s.set_yticklabels(["12,00", "8,00"])
ax_s.set_xticklabels(month_labels)
ax_s.tick_params(axis="x", pad=9.5)
ax_s.get_xticklabels()[6].set_fontweight("bold")

# ---- overlay: header, labels, boxes
ov = fig.add_axes([0, 0, 1, 1], zorder=20)
ov.set_xlim(0, W)
ov.set_ylim(H, 0)
ov.axis("off")
ov.patch.set_alpha(0)

ov.add_patch(Rectangle((0, 0), W, 2.5, color="#2a2e39", lw=0))
for py in [570, 650, 742, 825]:
    ov.plot([0, W], [py, py], color="#e6e8ee", lw=1.6, zorder=1)

ov.add_patch(Circle((20, 20), 10.5, color="#f7931a", lw=0))
ov.text(20, 20.5, "B", color="white", fontsize=10, fontweight="bold", ha="center", va="center")
ov.text(36, 22, "Bitcoin / Dollar \u00b7 1T \u00b7 Coinbase", fontsize=14, color="#131722", va="center", ha="left")
ov.add_patch(Circle((327, 20), 10, color="#dff3f0", lw=0))
ov.add_patch(Circle((327, 20), 5, color="#089981", lw=0))
x_pos = [349, 441, 532, 620]
heads = ["O", "H", "L", "C"]
nums = ["71.232,01", "71.957,56", "70.868,41", "71.553,45"]
for x, h, n in zip(x_pos, heads, nums):
    ov.text(x, 21.5, h, fontsize=10.8, color="#131722", va="center")
    ov.text(x + 9, 21.5, n, fontsize=10.8, color="#089981", va="center")
ov.text(709, 21.5, "+321,43 (+0,45%)", fontsize=11, color="#089981", va="center")
ov.text(841, 21.5, "+321,43 (+0,45%)", fontsize=11, color="#089981", va="center")

for x0, y0, w, h in [(10, 40, 39, 24), (10, 662, 34, 21)]:
    ov.add_patch(FancyBboxPatch((x0 + 2, y0 + 2), w - 4, h - 4, boxstyle="round,pad=2", fc="white", ec="#e0e3eb", lw=0.8))
ov.text(21, 52, "\u2304", fontsize=10, ha="center", va="center", color="#131722", family=["DejaVu Sans"])
ov.text(38, 52, "5", fontsize=10.5, ha="center", va="center", color="#131722")
ov.text(27, 671, "\u2304", fontsize=10, ha="center", va="center", color="#131722", family=["DejaVu Sans"])

ov.add_patch(Rectangle((70, 40), 24, 21, fc="#fbdcdc", ec="none", alpha=0.8))
for cx, cy, s in [(106, 52, 24), (75.5, 673, 20)]:
    ov.add_patch(FancyBboxPatch((cx - s / 2 + 3, cy - s / 2 + 3), s - 6, s - 6, boxstyle="round,pad=3", fc="#e8dcfb", ec="none", alpha=0.9))
    ov.add_patch(Circle((cx, cy), s * 0.29, fill=False, ec="#6d28d9", lw=1.5))

for title, x, y, clip_top in [("Momentum Status Indikator", 794, 573, 571), ("ICE DNA Code", 794, 746, 743),
                              ("ICE Trading Deluxe Big Point", 797, 832, None),
                              ("Von oben: Status / Kerzenfarbe / Wolkenfarbe / Trend / Setter / Welle", 795, 866, None)]:
    t = ov.text(x, y, title, fontsize=10.6, color="#131722", ha="center", va="center")
    if clip_top:
        t.set_clip_on(True)
        t.set_clip_path(Rectangle((0, clip_top), W, 30, transform=ov.transData))

wave_labels = [
    ("X?B?", 617, 4, BLUE, 13), ("v?", 89, 50, RED, 12), ("iii", 52, 102, RED, 12), ("ii", 55, 190, RED, 12),
    ("v?", 281, 45, RED, 12), ("b (x)", 293, 34, GREEN, 13), ("iv?", 216, 159, RED, 11), ("a (w)", 228, 172, GREEN, 13),
    ("W?A?", 380, 217, BLUE, 15), ("c (y)", 392, 194, GREEN, 14), ("y", 375, 178, "#131722", 11), ("x", 331, 85, "#131722", 11),
    ("a", 288, 122, "#131722", 10), ("w", 315, 152, "#131722", 10), ("b", 313, 112, "#131722", 10),
    ("2?", 740, 76, RED, 12), ("b (x)", 846, 125, GREEN, 14), ("a (w)", 797, 252, GREEN, 14), ("v", 672, 199, RED, 10),
    ("1?", 677, 214, RED, 12), ("iii", 756, 178, "#131722", 10), ("v", 790, 233, "#131722", 10), ("ii", 847, 163, "#131722", 10),
    ("iv", 892, 231, "#131722", 10), ("i", 838, 206, "#131722", 10), ("iii", 872, 297, "#131722", 10), ("ii", 745, 115, "#131722", 10),
    ("3?", 864, 383, RED, 12), ("W?", 889, 414, RED, 15), ("c (y)", 888, 368, GREEN, 13), ("4?", 1205, 176, RED, 12),
    ("X?", 1238, 176, RED, 14), ("70k auf ???k", 620, 480, RED, 13), ("4?", 1539, 326, RED, 12), ("1?", 1497, 383, BLUE, 12),
    ("b", 1492, 403, RED, 12), ("v", 1490, 417, BLUE, 12), ("b", 1533, 378, GREEN, 12), ("b", 1385, 400, GREEN, 12),
    ("a", 1380, 478, GREEN, 12), ("c", 1392, 476, GREEN, 12), ("w", 1395, 487, BLUE, 12), ("x", 1399, 420, BLUE, 12),
    ("y", 1410, 502, BLUE, 12), ("a", 1410, 514, RED, 12), ("w", 1438, 485, BLUE, 12), ("y", 1453, 490, BLUE, 12),
    ("x", 1442, 430, BLUE, 12), ("x2", 1472, 431, BLUE, 12), ("x", 1491, 486, BLUE, 12), ("w", 1500, 477, BLUE, 12),
    ("x", 1503, 440, BLUE, 11), ("z", 1483, 519, BLUE, 12), ("c", 1483, 533, RED, 12), ("b", 1492, 526, GREEN, 12),
    ("2?", 1489, 550, GREEN, 12), ("a", 1509, 514, GREEN, 12), ("c", 1552, 500, GREEN, 12), ("2?", 1558, 508, BLUE, 12),
    ("5?", 1372, 557, RED, 12),
]
for txt, x, y, col, size in wave_labels:
    ov.text(x, y, txt, color=col, fontsize=size, ha="center", va="center")

# price tags
ov.add_patch(FancyBboxPatch((1691, 405), 79, 35, boxstyle="round,pad=2", fc="black", ec="none"))
ov.text(1730, 414, "71.553,45", color="white", fontsize=11, ha="center", va="center")
ov.text(1730, 431, "10:01:01", color="#c9c9c9", fontsize=11, ha="center", va="center")
ov.add_patch(FancyBboxPatch((1691, 479), 79, 17, boxstyle="round,pad=2", fc=GREEN, ec="none"))
ov.text(1730, 487.5, "63.554,85", color="white", fontsize=11, ha="center", va="center")

# small icons
ov.add_patch(Circle((1596, 553), 12, fc="white", ec="#8e24aa", lw=1.8))
ov.text(1596, 553, "\u26a1", color="#8e24aa", fontsize=10, ha="center", va="center", family=["DejaVu Sans"])
ov.add_patch(Circle((1614, 553), 12, fc="white", ec=RED, lw=1.8))
ov.add_patch(Circle((1614, 553), 8.5, fc="#f28b82", ec="none"))
ov.add_patch(Rectangle((1605, 546), 9, 8, fc="#2962ff", ec="none"))
ov.scatter([1738], [975], s=150, marker="h", facecolors="none", edgecolors="#131722", linewidths=1)
ov.scatter([1738], [975], s=14, marker="o", facecolors="none", edgecolors="#131722", linewidths=1)

# chart watermark logo
ov.add_patch(Polygon([(13, 923), (35, 923), (35, 941), (26, 941), (26, 930), (13, 930)], closed=True, fc="#000000", ec="white", lw=1.2))
ov.add_patch(Circle((38, 928), 3.6, fc="#000000", ec="white", lw=1))
ov.add_patch(Polygon([(46, 923), (54, 923), (44, 941), (36, 941)], closed=True, fc="#000000", ec="white", lw=1.2))

plt.savefig("out.png", dpi=100, facecolor="white")
